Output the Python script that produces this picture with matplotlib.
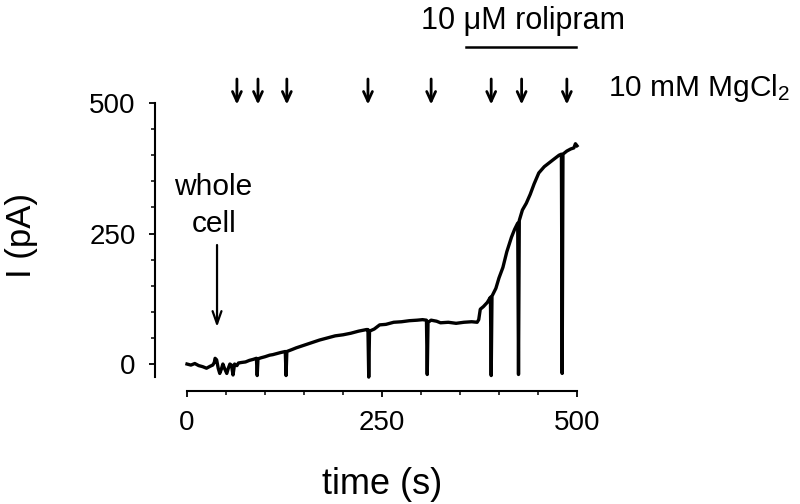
import matplotlib
matplotlib.use("Agg")
import matplotlib.pyplot as plt
from matplotlib.ticker import MultipleLocator

plt.rcParams['font.family'] = ['Liberation Sans', 'DejaVu Sans']
plt.rcParams['mathtext.fontset'] = 'custom'
plt.rcParams['mathtext.rm'] = 'Liberation Sans'

# ---- data ----
time_s = [0, 5, 10, 15, 20, 25, 30, 33, 35, 36, 38, 40, 42, 44, 46, 48, 51, 53, 55, 57,
          59, 61, 64, 66, 70, 75, 80, 85, 89, 90, 91, 95, 100, 106, 110, 115, 120, 126,
          127, 128, 135, 140, 150, 160, 170, 180, 190, 200, 210, 220, 230, 232, 233, 234,
          240, 247, 255, 265, 275, 285, 295, 302, 307, 308, 309, 313, 320, 325, 335, 345,
          355, 365, 372, 374, 376, 380, 385, 389, 390, 391, 396, 400, 405, 410, 416, 420,
          424, 425, 426, 430, 435, 440, 445, 451, 458, 464, 470, 477, 480, 481, 482, 487,
          492, 496, 498, 500]
current_pA = [0, -2, 1, -3, -5, -8, -4, -2, 3, 11, 8, -8, -18, -10, 0, -8, -18, -8, 0, -2,
              -21, 0, -3, 2, 3, 4, 7, 9, 11, -22, 10, 12, 14, 17, 18, 20, 22, 24,
              -22, 24, 28, 31, 36, 41, 46, 50, 54, 56, 59, 63, 66, 66, -25, 63,
              67, 75, 76, 80, 81, 83, 84, 85, 84, -20, 80, 84, 82, 79, 80, 78,
              80, 81, 80, 85, 105, 110, 118, 128, -22, 130, 145, 165, 185, 215, 243, 258,
              270, -20, 275, 295, 308, 325, 345, 366, 378, 385, 392, 400, 402, -18, 402, 408,
              412, 414, 422, 418]

mgcl2_times = [64, 91, 128, 232, 313, 390, 429, 487]
rolipram_start, rolipram_end = 358, 499
whole_cell_time = 38.5

x_ticks = [0, 250, 500]
y_ticks = [0, 250, 500]

# ---- figure ----
fig = plt.figure(figsize=(8.0, 5.04), dpi=100)
ax = fig.add_axes([187/800, 1 - 379.7/504, 390/800, (379.7 - 103)/504])

ax.plot(time_s, current_pA, color='black', lw=2.4, clip_on=False,
        solid_joinstyle='round')
ax.set_xlim(0, 500)
ax.set_ylim(-30, 500)

for s in ['top', 'right']:
    ax.spines[s].set_visible(False)
ax.spines['left'].set_position(('outward', 23))
ax.spines['bottom'].set_position(('outward', 8))
ax.spines['left'].set_bounds(-25, 500)
ax.spines['bottom'].set_bounds(0, 500)
for s in ['left', 'bottom']:
    ax.spines[s].set_linewidth(1.5)

ax.set_xticks(x_ticks)
ax.set_yticks(y_ticks)
ax.xaxis.set_minor_locator(MultipleLocator(50))
ax.yaxis.set_minor_locator(MultipleLocator(50))
ax.tick_params(which='major', length=4, width=1.3, labelsize=20, pad=10)
ax.tick_params(which='minor', length=3, width=1.1)
ax.tick_params(axis='y', which='major', pad=10)

fig.text(22/800, 1 - 236/504, 'I (pA)', rotation=90, ha='center', va='center', fontsize=25)
fig.text(382/800, 1 - 484/504, 'time (s)', ha='center', va='center', fontsize=26)

# MgCl2 arrows
for t in mgcl2_times:
    ax.annotate('', xy=(t, 497), xytext=(t, 546), annotation_clip=False,
                arrowprops=dict(arrowstyle='->, head_length=0.7, head_width=0.32',
                                lw=2.0, color='black', shrinkA=0, shrinkB=0))
ax.text(540, 513, '10 mM MgCl$\\mathregular{_2}$', fontsize=21.5, ha='left', va='baseline',
        clip_on=False)

# rolipram bar
ax.plot([rolipram_start, rolipram_end], [607, 607], color='black', lw=1.8, clip_on=False)
ax.text(431, 642, '10 \u03bcM rolipram', fontsize=22, ha='center', va='baseline',
        clip_on=False)

# whole cell
ax.annotate('', xy=(whole_cell_time, 71), xytext=(whole_cell_time, 228),
            annotation_clip=False,
            arrowprops=dict(arrowstyle='->, head_length=0.9, head_width=0.32',
                            lw=1.6, color='black', shrinkA=0, shrinkB=0))
ax.text(34, 324, 'whole', fontsize=21.5, ha='center', va='baseline')
ax.text(35, 253, 'cell', fontsize=21.5, ha='center', va='baseline')

fig.savefig('out.png', dpi=100)
